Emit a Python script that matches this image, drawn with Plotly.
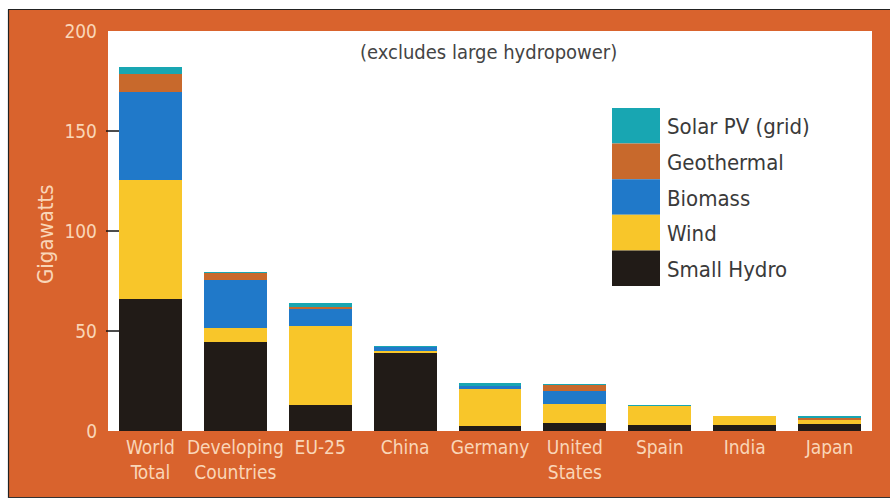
import plotly.graph_objects as go

# Installed renewable capacity by region, gigawatts (excludes large hydropower)
categories = ["World<br>Total", "Developing<br>Countries", "EU-25", "China", "Germany",
              "United<br>States", "Spain", "India", "Japan"]
small_hydro = [66.0, 44.6, 12.9, 39.0, 2.5, 3.9, 2.8, 2.8, 3.7]
wind = [59.3, 6.7, 39.6, 1.1, 18.4, 9.5, 10.1, 4.7, 2.0]
biomass = [44.0, 24.2, 8.7, 2.2, 1.5, 6.6, 0.0, 0.0, 0.2]
geothermal = [9.3, 3.8, 0.8, 0.0, 0.0, 3.3, 0.0, 0.0, 0.5]
solar_pv = [3.4, 0.1, 1.8, 0.2, 1.8, 0.1, 0.1, 0.0, 1.1]

series_names = ["Small Hydro", "Wind", "Biomass", "Geothermal", "Solar PV (grid)"]
series_values = [small_hydro, wind, biomass, geothermal, solar_pv]
series_colors = ["#211b17", "#f8c62a", "#2079c9", "#c8692c", "#18a6b2"]

y_ticks = [0, 50, 100, 150, 200]

FONT = "DejaVu Sans Condensed, DejaVu Sans, sans-serif"
ORANGE = "#d9632d"
PEACH = "#f9d6b8"

W, H = 890, 498
L, R, T, B = 108, 872, 31, 431


def px_x(p):
    return (p - L) / (R - L)


def px_y(p):
    return (B - p) / (B - T)


fig = go.Figure()
for name, vals, col in zip(series_names, series_values, series_colors):
    fig.add_trace(go.Bar(
        x=list(range(len(categories))), y=vals, name=name,
        marker=dict(color=col, line=dict(width=0)),
        width=0.74, showlegend=False,
    ))

shapes = []
# white margin with thin dark edge around the orange frame
shapes.append(dict(type="rect", xref="paper", yref="paper", x0=px_x(0), x1=px_x(W),
                   y0=px_y(9), y1=px_y(0), fillcolor="white", line=dict(width=0), layer="below"))
shapes.append(dict(type="rect", xref="paper", yref="paper", x0=px_x(0), x1=px_x(8),
                   y0=px_y(H), y1=px_y(0), fillcolor="white", line=dict(width=0), layer="below"))
shapes.append(dict(type="line", xref="paper", yref="paper", x0=px_x(8), x1=px_x(W),
                   y0=px_y(9.5), y1=px_y(9.5), line=dict(color="#222", width=1.2)))
shapes.append(dict(type="line", xref="paper", yref="paper", x0=px_x(8.5), x1=px_x(8.5),
                   y0=px_y(H), y1=px_y(9.5), line=dict(color="#222", width=1.2)))
shapes.append(dict(type="line", xref="paper", yref="paper", x0=px_x(8), x1=px_x(W),
                   y0=px_y(497.5), y1=px_y(497.5), line=dict(color="#333", width=1)))

# short black tick marks on the value axis
for v in y_ticks[1:-1]:
    shapes.append(dict(type="line", xref="paper", yref="y", x0=px_x(106), x1=px_x(119),
                       y0=v, y1=v, line=dict(color="#111", width=1.5)))

# legend swatches stacked as one column
leg_top, leg_step = 108, 35.6
annotations = []
leg_order = list(zip(series_names, series_colors))[::-1]
for i, (name, col) in enumerate(leg_order):
    y0 = leg_top + i * leg_step
    shapes.append(dict(type="rect", xref="paper", yref="paper", x0=px_x(612), x1=px_x(660),
                       y0=px_y(y0 + leg_step), y1=px_y(y0), fillcolor=col,
                       line=dict(width=0)))
    annotations.append(dict(xref="paper", yref="paper", x=px_x(665), y=px_y(y0 + leg_step / 2 + 1),
                            text=name, showarrow=False, xanchor="left", yanchor="middle",
                            font=dict(family=FONT, size=22, color="#3a3a3a")))

annotations.append(dict(xref="paper", yref="paper", x=px_x(488), y=px_y(52),
                        text="(excludes large hydropower)", showarrow=False,
                        xanchor="center", yanchor="middle",
                        font=dict(family=FONT, size=20, color="#444")))
annotations.append(dict(xref="paper", yref="paper", x=px_x(45), y=px_y(234),
                        text="Gigawatts", showarrow=False, textangle=-90,
                        xanchor="center", yanchor="middle",
                        font=dict(family=FONT, size=22, color=PEACH)))

fig.update_layout(
    width=W, height=H,
    margin=dict(l=L, r=W - R, t=T, b=H - B, pad=0),
    barmode="stack", bargap=0.26,
    paper_bgcolor=ORANGE, plot_bgcolor="white",
    shapes=shapes, annotations=annotations,
    xaxis=dict(tickmode="array", tickvals=list(range(len(categories))), ticktext=categories,
               range=[-0.5, len(categories) - 0.5], showgrid=False, zeroline=False,
               showline=False, ticks="", tickangle=0, automargin=False,
               ticklabelstandoff=3,
               tickfont=dict(family=FONT, size=19, color=PEACH)),
    yaxis=dict(range=[0, 200], tickvals=y_ticks, showgrid=False, zeroline=False,
               showline=False, ticks="", ticklabelstandoff=10, automargin=False,
               tickfont=dict(family=FONT, size=19, color=PEACH)),
)

fig.write_html("out.html")
